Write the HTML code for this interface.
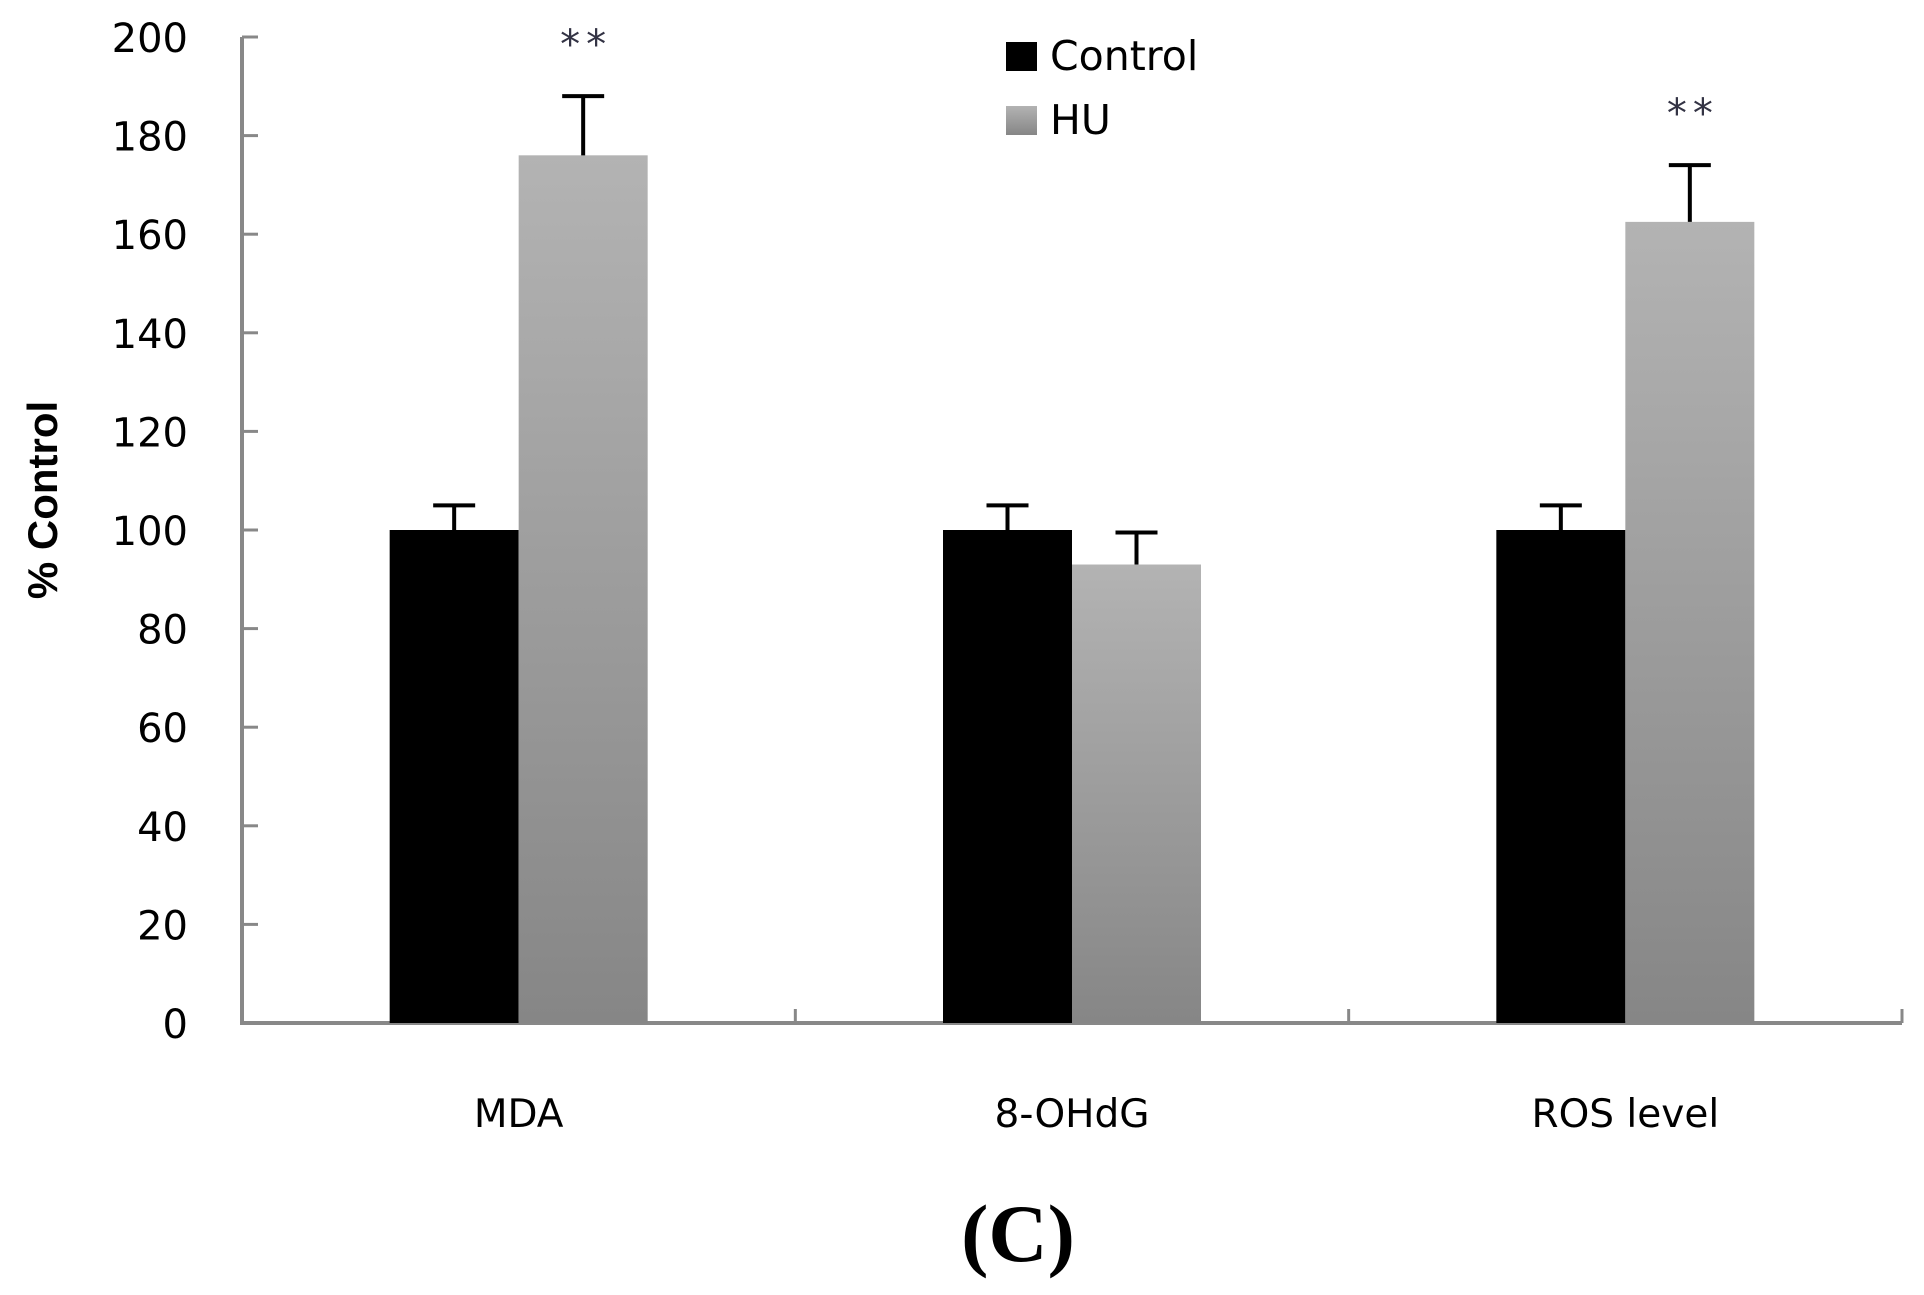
<!DOCTYPE html>
<html><head><meta charset="utf-8"><style>
html,body{margin:0;padding:0;background:#fff;}
svg{display:block;}
</style></head><body>
<svg id="chart" width="1924" height="1295" xmlns="http://www.w3.org/2000/svg">
<defs>
<linearGradient id="huGrad" x1="0" y1="0" x2="0" y2="1">
<stop offset="0" stop-color="#b3b3b3"/><stop offset="1" stop-color="#868686"/>
</linearGradient>
</defs>
</svg>
<script>
const categories = ["MDA", "8-OHdG", "ROS level"];
const controlValues = [100, 100, 100];
const controlErrors = [5, 5, 5];
const huValues = [176, 93, 162.5];
const huErrors = [12, 6.5, 11.5];
const significance = ["**", "", "**"];
const yTicks = [0, 20, 40, 60, 80, 100, 120, 140, 160, 180, 200];

const NS = "http://www.w3.org/2000/svg";
const svg = document.getElementById("chart");
const FONT = "DejaVu Sans, Liberation Sans, sans-serif";
const x0 = 242, x1 = 1902, yBase = 1023, yTop = 37, yMax = 200;
const groupW = (x1 - x0) / categories.length;
const barW = 129;
function yScale(v){ return yBase - (v / yMax) * (yBase - yTop); }
function groupCenter(i){ return x0 + groupW * (i + 0.5); }
function mk(tag, attrs, parent){ const e = document.createElementNS(NS, tag); for (const k in attrs) e.setAttribute(k, attrs[k]); (parent||svg).appendChild(e); return e; }

const yAxis = mk("line", {x1:x0, y1:yTop, x2:x0, y2:yBase+2, stroke:"#888", "stroke-width":4});


yTicks.forEach(t => {
  const y = yScale(t);
  const tk = mk("line", {x1:x0, y1:y, x2:x0+16, y2:y, stroke:"#888", "stroke-width":3});
  
  
  const lb = mk("text", {x:188, y:y+15, "text-anchor":"end", "font-family":FONT, "font-size":40, fill:"#000"});
  lb.textContent = t;
  
  
});
const yt = mk("text", {x:0, y:0, transform:"translate(57,500) rotate(-90)", "text-anchor":"middle", "font-family":"Liberation Sans, sans-serif", "font-size":42, "font-weight":"bold", fill:"#000"});
yt.textContent = "% Control";



const xAxis = mk("line", {x1:x0, y1:yBase, x2:x1, y2:yBase, stroke:"#888", "stroke-width":4});


for (let i = 1; i <= categories.length; i++) {
  const xx = x0 + groupW * i;
  const tk = mk("line", {x1:xx, y1:yBase-14, x2:xx, y2:yBase, stroke:"#888", "stroke-width":3});
  
  
}

function errBar(cx, v, e){
  const g = mk("g", {});
  mk("line", {x1:cx, y1:yScale(v), x2:cx, y2:yScale(v+e), stroke:"#000", "stroke-width":4}, g);
  mk("line", {x1:cx-21, y1:yScale(v+e), x2:cx+21, y2:yScale(v+e), stroke:"#000", "stroke-width":4}, g);
  return g;
}

categories.forEach((c, i) => {
  const cx = groupCenter(i);
  const b1 = mk("rect", {x:cx-barW, y:yScale(controlValues[i]), width:barW, height:yBase-yScale(controlValues[i]), fill:"#000"});
  
  
  const b2 = mk("rect", {x:cx, y:yScale(huValues[i]), width:barW, height:yBase-yScale(huValues[i]), fill:"url(#huGrad)"});
  
  
  const e1 = errBar(cx-barW/2, controlValues[i], controlErrors[i]);
  
  
  const e2 = errBar(cx+barW/2, huValues[i], huErrors[i]);
  
  
  if (significance[i]) {
    const s = mk("text", {x:cx+barW/2+3, y:yScale(huValues[i]+huErrors[i])-38, "text-anchor":"middle", "font-family":FONT, "font-size":40, "letter-spacing":6, fill:"#333344"});
    s.textContent = significance[i];
    
    
  }
  const lb = mk("text", {x:cx, y:1127, "text-anchor":"middle", "font-family":FONT, "font-size":39, fill:"#000"});
  lb.textContent = c;
  
  
});

const lg = mk("g", {});


const s1 = mk("rect", {x:1006, y:42, width:31, height:29, fill:"#000"}, lg);


const t1 = mk("text", {x:1050, y:70, "font-family":FONT, "font-size":41, fill:"#000"}, lg);
t1.textContent = "Control";


const s2 = mk("rect", {x:1006, y:106, width:31, height:29, fill:"url(#huGrad)"}, lg);


const t2 = mk("text", {x:1050, y:134, "font-family":FONT, "font-size":41, fill:"#000"}, lg);
t2.textContent = "HU";



const pl = mk("text", {x:1018, y:1261, "text-anchor":"middle", "font-family":"Liberation Serif, serif", "font-size":82, "font-weight":"bold", fill:"#000"});
pl.textContent = "(C)";


</script>
</body></html>
